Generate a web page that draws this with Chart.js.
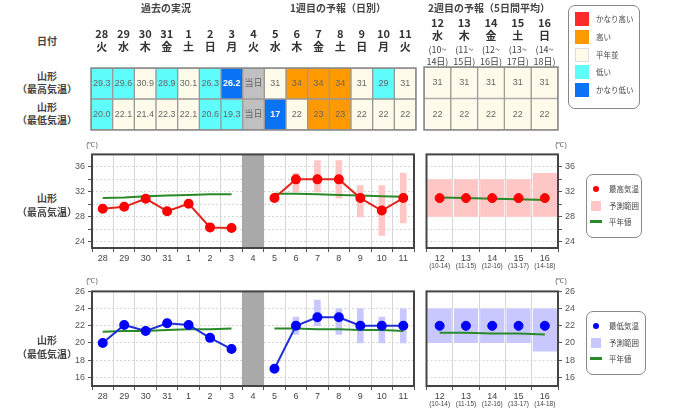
<!DOCTYPE html>
<html>
<head>
<meta charset="utf-8">
<script src="https://cdn.jsdelivr.net/npm/chart.js@4/dist/chart.umd.min.js"></script>
<style>
body { margin:0; width:680px; height:416px; position:relative; overflow:hidden; background:#fff;
       font-family:"Noto Sans CJK JP", sans-serif; color:#333; }
canvas { position:absolute; }
.t { position:absolute; white-space:nowrap; transform:translate(-50%,-50%); line-height:1; }
.lbl { font-size:10px; font-weight:600; color:#444; }
.hd { font-size:10px; font-weight:700; color:#444; }
.unit { font-size:7px; color:#555; font-family:"Liberation Sans", sans-serif; }
.box { position:absolute; border:1px solid #888; border-radius:7px; background:#fff; }
.item { position:absolute; font-size:7.5px; color:#444; white-space:nowrap; line-height:1; transform:translateY(-50%); }
.sw { position:absolute; }
</style>
</head>
<body>
<script>
// 日付
const dates1 = ['28', '29', '30', '31', '1', '2', '3', '4', '5', '6', '7', '8', '9', '10', '11'];
const weekdays1 = ['火', '水', '木', '金', '土', '日', '月', '火', '水', '木', '金', '土', '日', '月', '火'];
const dates2 = ['12', '13', '14', '15', '16'];
const weekdays2 = ['水', '木', '金', '土', '日'];
const spanFrom2 = ['10', '11', '12', '13', '14'];
const spanTo2 = ['14', '15', '16', '17', '18'];
const todayLabel = '4';

// 表 (実況・予報と階級)
const tblHighText = ['29.3', '29.6', '30.9', '28.9', '30.1', '26.3', '26.2', '当日', '31', '34', '34', '34', '31', '29', '31'];
const tblHighClass = ['low', 'low', 'normal', 'low', 'normal', 'low', 'vlow', 'today', 'normal', 'high', 'high', 'high', 'normal', 'low', 'normal'];
const tblLowText = ['20.0', '22.1', '21.4', '22.3', '22.1', '20.6', '19.3', '当日', '17', '22', '23', '23', '22', '22', '22'];
const tblLowClass = ['low', 'normal', 'normal', 'normal', 'normal', 'low', 'low', 'today', 'vlow', 'normal', 'high', 'high', 'normal', 'normal', 'normal'];
const tbl2HighText = ['31', '31', '31', '31', '31'];
const tbl2HighClass = ['normal', 'normal', 'normal', 'normal', 'normal'];
const tbl2LowText = ['22', '22', '22', '22', '22'];
const tbl2LowClass = ['normal', 'normal', 'normal', 'normal', 'normal'];

// 最高気温
const highObs = [29.3, 29.6, 30.9, 28.9, 30.1, 26.3, 26.2, null, null, null, null, null, null, null, null];
const highFcst = [null, null, null, null, null, null, null, null, 31, 34, 34, 34, 31, 29, 31];
const highRangeLo = [null, null, null, null, null, null, null, null, null, 32, 32, 31, 28, 25, 27];
const highRangeHi = [null, null, null, null, null, null, null, null, null, 35, 37, 37, 33, 33, 35];
const highNormal = [31.0, 31.1, 31.3, 31.4, 31.5, 31.6, 31.6, null, 31.7, 31.7, 31.6, 31.5, 31.4, 31.3, 31.2];
const highFcst2 = [31, 31, 31, 31, 31];
const highRange2Lo = [28, 28, 28, 28, 28];
const highRange2Hi = [34, 34, 34, 34, 35];
const highNormal2 = [31.1, 31.0, 30.9, 30.8, 30.7];
const highMin = 23, highMax = 38;
const highTicks = [24, 26, 28, 30, 32, 34, 36];
const highTickLabels = [24, 28, 32, 36];

// 最低気温
const lowObs = [20.0, 22.1, 21.4, 22.3, 22.1, 20.6, 19.3, null, null, null, null, null, null, null, null];
const lowFcst = [null, null, null, null, null, null, null, null, 17, 22, 23, 23, 22, 22, 22];
const lowRangeLo = [null, null, null, null, null, null, null, null, null, 21, 22, 21, 20, 20, 20];
const lowRangeHi = [null, null, null, null, null, null, null, null, null, 23, 25, 24, 24, 23, 24];
const lowNormal = [21.3, 21.4, 21.4, 21.5, 21.6, 21.6, 21.7, null, 21.7, 21.7, 21.6, 21.6, 21.5, 21.5, 21.4];
const lowFcst2 = [22, 22, 22, 22, 22];
const lowRange2Lo = [20, 20, 20, 20, 19];
const lowRange2Hi = [24, 24, 24, 24, 24];
const lowNormal2 = [21.2, 21.2, 21.1, 21.1, 21.0];
const lowMin = 15, lowMax = 26;
const lowTicks = [16, 18, 20, 22, 24, 26];
const lowTickLabels = [16, 18, 20, 22, 24, 26];

// 色
const classColors = { vhigh: '#ff2a2a', high: '#ff9900', normal: '#fffbea', low: '#5ffcfc', vlow: '#0a72f5', today: '#c0c0c0' };
const legendClasses = [['vhigh', 'かなり高い'], ['high', '高い'], ['normal', '平年並'], ['low', '低い'], ['vlow', 'かなり低い']];
const GREEN = '#2a8a2a';
const TICK_FONT = { family: '"Liberation Sans", sans-serif', size: 9 };

// 枠線
const framePlugin = {
    id: 'frame',
    afterDatasetsDraw(chart, args, opts) {
        const a = chart.chartArea, ctx = chart.ctx;
        ctx.save();
        ctx.strokeStyle = opts.color || '#444';
        ctx.lineWidth = opts.width || 2;
        ctx.strokeRect(a.left, a.top, a.right - a.left, a.bottom - a.top);
        ctx.restore();
    }
};

// 表のセル文字
const cellTextPlugin = {
    id: 'cellText',
    afterDatasetsDraw(chart) {
        const ctx = chart.ctx;
        chart.data.datasets.forEach((ds, di) => {
            if (!ds.cellText) return;
            chart.getDatasetMeta(di).data.forEach((el, i) => {
                const cls = ds.cellClass[i];
                ctx.save();
                ctx.font = (cls === 'vlow' ? 'bold ' : '') + '9px "Liberation Sans", "Noto Sans CJK JP", sans-serif';
                ctx.fillStyle = cls === 'vlow' ? '#fff' : '#666';
                ctx.textAlign = 'center';
                ctx.textBaseline = 'middle';
                ctx.fillText(ds.cellText[i], el.x, (el.y + el.base) / 2);
                ctx.restore();
            });
        });
    }
};

function addText(html, x, y, cls) {
    const d = document.createElement('div');
    d.className = 't ' + cls;
    d.innerHTML = html;
    d.style.left = x + 'px';
    d.style.top = y + 'px';
    document.body.appendChild(d);
}

function makeCanvas(left, top, w, h) {
    const c = document.createElement('canvas');
    c.width = w; c.height = h;
    c.style.left = left + 'px';
    c.style.top = top + 'px';
    c.style.width = w + 'px';
    c.style.height = h + 'px';
    document.body.appendChild(c);
    return c;
}

function rowDataset(texts, classes, row) {
    return {
        data: texts.map(() => [row, row + 1]),
        backgroundColor: classes.map(c => classColors[c]),
        borderColor: '#999',
        borderWidth: 1,
        borderSkipped: false,
        barPercentage: 1,
        categoryPercentage: 1,
        grouped: false,
        cellText: texts,
        cellClass: classes
    };
}

const flatTicks = { maxRotation: 0, minRotation: 0, autoSkip: false };

// 上段の表 (1週目まで)
function createTable1() {
    const c = makeCanvas(89, 0, 329, 132);
    new Chart(c, {
        type: 'bar',
        data: {
            labels: dates1.map((d, i) => [d, weekdays1[i]]),
            datasets: [rowDataset(tblHighText, tblHighClass, 1), rowDataset(tblLowText, tblLowClass, 0)]
        },
        options: {
            responsive: false, animation: false,
            layout: { padding: { left: 2, right: 2, top: 0, bottom: 2 } },
            plugins: { legend: { display: false }, tooltip: { enabled: false }, frame: { color: '#888', width: 1.5 } },
            scales: {
                x: {
                    position: 'top',
                    grid: { display: false, drawTicks: true, tickLength: 14 }, border: { display: false },
                    ticks: { ...flatTicks, color: '#333', padding: 0, font: { family: '"Noto Sans CJK JP", sans-serif', size: 11, weight: 'bold', lineHeight: 1.25 } },
                    afterFit: s => { s.height = 68; }
                },
                y: { display: false, min: 0, max: 2 }
            }
        },
        plugins: [framePlugin, cellTextPlugin]
    });
}

// 上段の表 (2週目)
function createTable2() {
    const c = makeCanvas(422, 0, 138, 132);
    new Chart(c, {
        type: 'bar',
        data: {
            labels: dates2.map((d, i) => [d, weekdays2[i]]),
            datasets: [rowDataset(tbl2HighText, tbl2HighClass, 1), rowDataset(tbl2LowText, tbl2LowClass, 0)]
        },
        options: {
            responsive: false, animation: false,
            layout: { padding: { left: 2, right: 2, top: 0, bottom: 2 } },
            plugins: { legend: { display: false }, tooltip: { enabled: false }, frame: { color: '#888', width: 1.5 } },
            scales: {
                x: {
                    position: 'top', weight: 1,
                    grid: { display: false, drawTicks: false }, border: { display: false },
                    ticks: { ...flatTicks, color: '#333', padding: 0, font: { family: '"Noto Sans CJK JP", sans-serif', size: 11, weight: 'bold', lineHeight: 1.25 } },
                    afterFit: s => { s.height = 43; }
                },
                x2: {
                    type: 'category', position: 'top', weight: 0, offset: true,
                    labels: spanFrom2.map((f, i) => ['(' + f + '~', spanTo2[i] + '日)']),
                    grid: { display: false, drawTicks: false }, border: { display: false },
                    ticks: { ...flatTicks, color: '#444', padding: 0, font: { family: '"Noto Sans CJK JP", sans-serif', size: 9, lineHeight: 1.3 } },
                    afterFit: s => { s.height = 24; }
                },
                y: { display: false, min: 0, max: 2 }
            }
        },
        plugins: [framePlugin, cellTextPlugin]
    });
}

function yAxis(min, max, ticks, labels, position, width) {
    return {
        position: position, min: min, max: max,
        afterBuildTicks: s => { s.ticks = ticks.map(v => ({ value: v })); },
        ticks: { font: TICK_FONT, color: '#555', padding: 3, callback: v => labels.includes(v) ? v : '' },
        grid: { color: '#d6d6d6', tickLength: 4, tickColor: '#555' },
        border: { display: false, dash: [2, 2] },
        afterFit: s => { s.width = width; }
    };
}

// 1週目までのグラフ
function createWeekChart(top, areaH, obs, fcst, rLo, rHi, normal, yMin, yMax, ticks, labels, lineColor, pointColor, rangeColor) {
    const c = makeCanvas(60, top, 360, 6 + areaH + 28);
    const todayIdx = dates1.indexOf(todayLabel);
    new Chart(c, {
        type: 'bar',
        data: {
            labels: dates1,
            datasets: [{
                data: dates1.map((d, i) => i === todayIdx ? [yMin, yMax] : null),
                backgroundColor: '#a9a9a9', barPercentage: 1, categoryPercentage: 1, grouped: false, order: 5
            }, {
                data: rLo.map((v, i) => v == null ? null : [v, rHi[i]]),
                backgroundColor: rangeColor, barThickness: 6, grouped: false, order: 4
            }, {
                type: 'line', data: normal, borderColor: GREEN, borderWidth: 2, pointRadius: 0, order: 3
            }, {
                type: 'line', data: obs, borderColor: lineColor, borderWidth: 2,
                pointRadius: 4, pointBackgroundColor: pointColor, pointBorderColor: pointColor, order: 1
            }, {
                type: 'line', data: fcst, borderColor: lineColor, borderWidth: 2,
                pointRadius: 4, pointBackgroundColor: pointColor, pointBorderColor: pointColor, order: 1
            }]
        },
        options: {
            responsive: false, animation: false,
            layout: { padding: { left: 0, right: 4, top: 6, bottom: 0 } },
            plugins: { legend: { display: false }, tooltip: { enabled: false }, frame: { color: '#444', width: 2 } },
            scales: {
                x: {
                    offset: true,
                    grid: { offset: true, color: '#d6d6d6', tickLength: 4, tickColor: '#555' },
                    border: { display: false },
                    ticks: { ...flatTicks, font: TICK_FONT, color: '#444', padding: 1 },
                    afterFit: s => { s.height = 28; }
                },
                y: yAxis(yMin, yMax, ticks, labels, 'left', 32)
            }
        },
        plugins: [framePlugin]
    });
}

// 2週目のグラフ
function createWeek2Chart(top, areaH, fcst, rLo, rHi, normal, yMin, yMax, ticks, labels, pointColor, rangeColor) {
    const c = makeCanvas(421, top, 175, 6 + areaH + 26);
    new Chart(c, {
        type: 'bar',
        data: {
            labels: dates2,
            datasets: [{
                data: rLo.map((v, i) => [v, rHi[i]]),
                backgroundColor: rangeColor, barPercentage: 0.92, categoryPercentage: 1, grouped: false, order: 4
            }, {
                type: 'line', data: normal, borderColor: GREEN, borderWidth: 2, pointRadius: 0, order: 3
            }, {
                type: 'line', data: fcst, showLine: false,
                pointRadius: 4.5, pointBackgroundColor: pointColor, pointBorderColor: pointColor, order: 1
            }]
        },
        options: {
            responsive: false, animation: false,
            layout: { padding: { left: 4, right: 0, top: 6, bottom: 0 } },
            plugins: { legend: { display: false }, tooltip: { enabled: false }, frame: { color: '#444', width: 2 } },
            scales: {
                x: {
                    offset: true,
                    grid: { offset: true, color: '#d6d6d6', tickLength: 4, tickColor: '#555' },
                    border: { display: false },
                    ticks: { ...flatTicks, font: TICK_FONT, color: '#444', padding: 1 },
                    afterFit: s => { s.height = 14; }
                },
                x2: {
                    type: 'category', offset: true,
                    labels: spanFrom2.map((f, i) => '(' + f + '-' + spanTo2[i] + ')'),
                    grid: { display: false, drawTicks: false }, border: { display: false },
                    ticks: { ...flatTicks, font: { family: '"Liberation Sans", sans-serif', size: 6.5 }, color: '#444', padding: 0 },
                    afterFit: s => { s.height = 12; }
                },
                y: yAxis(yMin, yMax, ticks, labels, 'right', 38)
            }
        },
        plugins: [framePlugin]
    });
}

function addLegendBox(left, top, w, h) {
    const b = document.createElement('div');
    b.className = 'box';
    Object.assign(b.style, { left: left + 'px', top: top + 'px', width: w + 'px', height: h + 'px' });
    document.body.appendChild(b);
}
function addSwatch(left, top, w, h, color, radius, border) {
    const s = document.createElement('div');
    s.className = 'sw';
    Object.assign(s.style, { left: left + 'px', top: top + 'px', width: w + 'px', height: h + 'px',
        background: color, borderRadius: radius || '0', border: border || 'none', boxSizing: 'border-box' });
    document.body.appendChild(s);
}
function addItem(text, left, y) {
    const d = document.createElement('div');
    d.className = 'item';
    d.textContent = text;
    d.style.left = left + 'px';
    d.style.top = y + 'px';
    document.body.appendChild(d);
}

function createLabels() {
    addText('過去の実況', 166, 8, 'hd');
    addText('1週目の予報（日別）', 338, 8, 'hd');
    addText('2週目の予報（5日間平均）', 489, 8, 'hd');
    addText('日付', 47, 41, 'lbl');
    addText('山形', 47, 76, 'lbl');
    addText('（最高気温）', 47, 89, 'lbl');
    addText('山形', 47, 107, 'lbl');
    addText('（最低気温）', 47, 120, 'lbl');
    addText('山形', 47, 198, 'lbl');
    addText('（最高気温）', 47, 212, 'lbl');
    addText('山形', 47, 340, 'lbl');
    addText('（最低気温）', 47, 354, 'lbl');
    addText('(℃)', 92, 144, 'unit');
    addText('(℃)', 561, 144, 'unit');
    addText('(℃)', 92, 280, 'unit');
    addText('(℃)', 561, 280, 'unit');

    // 階級の凡例
    addLegendBox(568, 5, 70, 102);
    legendClasses.forEach(([cls, name], i) => {
        const y = 19 + i * 17.8;
        addSwatch(575, y - 7, 14, 14, classColors[cls], 0, cls === 'normal' ? '1px solid #ddd' : 'none');
        addItem(name, 596, y);
    });

    // 最高気温の凡例
    addLegendBox(586, 174, 54, 62);
    addSwatch(593, 186, 6, 6, '#ff0000', '50%');
    addItem('最高気温', 609, 189);
    addSwatch(591, 201, 10, 10, '#ffc6c6');
    addItem('予測範囲', 609, 206);
    addSwatch(590, 220, 12, 3, GREEN);
    addItem('平年値', 609, 222);

    // 最低気温の凡例
    addLegendBox(586, 311, 58, 62);
    addSwatch(593, 323, 6, 6, '#0000ff', '50%');
    addItem('最低気温', 609, 326);
    addSwatch(591, 338, 10, 10, '#c8c8ff');
    addItem('予測範囲', 609, 343);
    addSwatch(590, 357, 12, 3, GREEN);
    addItem('平年値', 609, 359);
}

createTable1();
createTable2();
createWeekChart(146, 96, highObs, highFcst, highRangeLo, highRangeHi, highNormal,
    highMin, highMax, highTicks, highTickLabels, '#e2261e', '#ff0000', '#ffc6c6');
createWeek2Chart(146, 96, highFcst2, highRange2Lo, highRange2Hi, highNormal2,
    highMin, highMax, highTicks, highTickLabels, '#ff0000', '#ffc6c6');
createWeekChart(283, 97, lowObs, lowFcst, lowRangeLo, lowRangeHi, lowNormal,
    lowMin, lowMax, lowTicks, lowTickLabels, '#1f2fd6', '#0000ff', '#c8c8ff');
createWeek2Chart(283, 97, lowFcst2, lowRange2Lo, lowRange2Hi, lowNormal2,
    lowMin, lowMax, lowTicks, lowTickLabels, '#0000ff', '#c8c8ff');
createLabels();
</script>
</body>
</html>
